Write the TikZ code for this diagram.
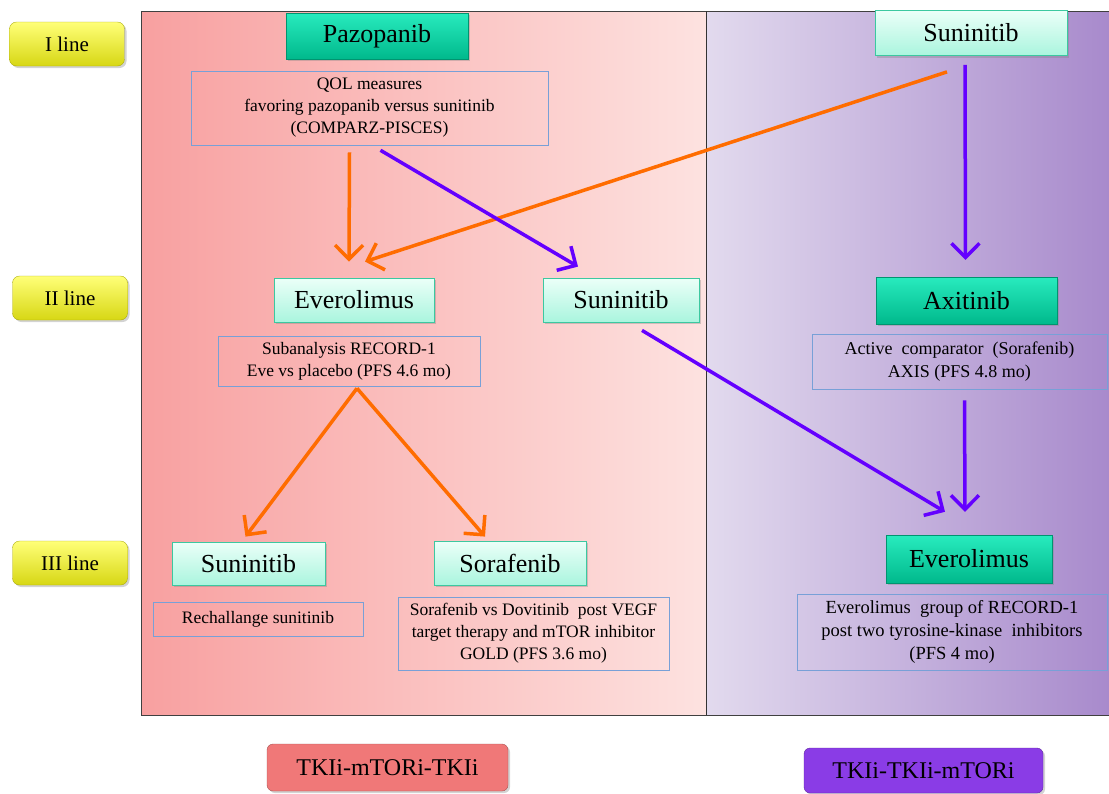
\documentclass[tikz,border=0pt]{standalone}
\usepackage{fontspec}
\setmainfont{Liberation Serif}
\usetikzlibrary{arrows.meta,shadows}
\definecolor{pinkL}{RGB}{248,160,160}
\definecolor{pinkR}{RGB}{253,226,224}
\definecolor{lavL}{RGB}{226,218,238}
\definecolor{lavR}{RGB}{168,138,204}
\definecolor{tealT}{RGB}{40,235,190}
\definecolor{tealB}{RGB}{0,185,140}
\definecolor{mintT}{RGB}{235,255,248}
\definecolor{mintB}{RGB}{170,245,222}
\definecolor{mintD}{RGB}{60,200,160}
\definecolor{yelT}{RGB}{255,255,120}
\definecolor{yelB}{RGB}{215,215,20}
\definecolor{boxline}{RGB}{120,160,215}
\definecolor{oarrc}{RGB}{255,108,0}
\definecolor{parrc}{RGB}{100,0,255}
\definecolor{redbox}{RGB}{240,120,120}
\definecolor{purbox}{RGB}{138,60,230}
\tikzset{
  darkbox/.style={draw=tealB!80!black, top color=tealT, bottom color=tealB, minimum height=46pt, inner sep=0pt, font=\rmfamily\fontsize{26}{28}\selectfont, drop shadow={opacity=0.35,shadow xshift=2pt,shadow yshift=-2pt}},
  mintbox/.style={draw=mintD, line width=0.8pt, top color=mintT, bottom color=mintB, minimum height=44pt, inner sep=0pt, font=\rmfamily\fontsize{26}{28}\selectfont, drop shadow={opacity=0.35,shadow xshift=2pt,shadow yshift=-2pt}},
  textbox/.style={draw=boxline, line width=0.6pt, inner sep=0pt, align=center, font=\rmfamily\fontsize{17.5}{22}\selectfont},
  linebox/.style={draw=yelB!80!black, rounded corners=7pt, top color=yelT, bottom color=yelB, minimum width=115pt, minimum height=44pt, inner sep=0pt, font=\rmfamily\fontsize{21}{24}\selectfont, drop shadow={opacity=0.35,shadow xshift=2pt,shadow yshift=-2pt}},
  oarr/.style={draw=oarrc, line width=3.5pt, -{Straight Barb[length=14pt,width=28pt,line width=3.5pt]}},
  parr/.style={draw=parrc, line width=3.5pt, -{Straight Barb[length=14pt,width=28pt,line width=3.5pt]}},
  tkbox/.style={rounded corners=6pt, inner sep=0pt, font=\rmfamily\fontsize{24}{26}\selectfont, drop shadow={opacity=0.35,shadow xshift=2pt,shadow yshift=-2pt}},
}
\begin{document}
\begin{tikzpicture}[x=1pt,y=-1pt]
\useasboundingbox (0,0) rectangle (1109,793);
% panels
\shade[left color=pinkL, right color=pinkR] (141,11) rectangle (706,715);
\shade[left color=lavL, right color=lavR] (706,11) rectangle (1109,715);
\draw[line width=1pt, black!75] (1109,11) -- (141,11) -- (141,715) -- (1109,715);
\draw[line width=1pt, black!80] (706,11) -- (706,715);
% line labels
\node[linebox] (l1) at (67,44) {I line};
\node[linebox] (l2) at (70,298) {II line};
\node[linebox] (l3) at (70,563) {III line};
% row I
\node[darkbox, minimum width=182pt] (paz) at (377,36) {Pazopanib};
\node[textbox, minimum width=357pt, minimum height=74pt] (qol) at (369.5,108) {QOL measures\\favoring pazopanib versus sunitinib\\(COMPARZ-PISCES)};
\node[mintbox, minimum width=192pt, minimum height=45pt] (sun1) at (971,33) {Suninitib};
% row II
\node[mintbox, minimum width=160pt] (ev2) at (354,300) {Everolimus};
\node[mintbox, minimum width=156pt] (sun2) at (621,300) {Suninitib};
\node[darkbox, minimum width=181pt, minimum height=47pt] (axi) at (966.5,300.5) {Axitinib};
\node[textbox, minimum width=262pt, minimum height=50pt] (sub) at (349,361) {Subanalysis RECORD-1\\Eve vs placebo (PFS 4.6 mo)};
\node[textbox, minimum width=295pt, minimum height=55pt, font=\rmfamily\fontsize{18}{23}\selectfont] (act) at (959.5,361.5) {Active~ comparator~ (Sorafenib)\\AXIS (PFS 4.8 mo)};
% row III
\node[mintbox, minimum width=153pt, minimum height=43pt] (sun3) at (248.5,563.5) {Suninitib};
\node[mintbox, minimum width=152pt] (sor) at (510,563) {Sorafenib};
\node[darkbox, minimum width=166pt, minimum height=48pt] (ev3) at (969,559) {Everolimus};
\node[textbox, minimum width=210pt, minimum height=34pt] (rech) at (258,619) {Rechallange sunitinib};
\node[textbox, minimum width=271pt, minimum height=73pt] (sorvs) at (533.5,633.5) {Sorafenib vs Dovitinib~ post VEGF\\target therapy and mTOR inhibitor\\GOLD (PFS 3.6 mo)};
\node[textbox, minimum width=310pt, minimum height=76pt, font=\rmfamily\fontsize{18.5}{23}\selectfont] (evg) at (952,632) {Everolimus~ group of RECORD-1\\post two tyrosine-kinase~ inhibitors\\(PFS 4 mo)};
% bottom labels
\node[tkbox, draw=redbox!70!black, fill=redbox, minimum width=241pt, minimum height=47pt] (tk1) at (387.5,767.5) {TKIi-mTORi-TKIi};
\node[tkbox, draw=purbox!70!black, fill=purbox, minimum width=239pt, minimum height=45pt] (tk2) at (923.5,770.5) {TKIi-TKIi-mTORi};
% arrows
\draw[oarr] ([xshift=-20pt,yshift=-7pt]qol.south) -- ([xshift=-5pt,yshift=16pt]ev2.north);
\draw[oarr] ([xshift=-24pt,yshift=-16pt]sun1.south) -- ([xshift=11pt,yshift=16pt]ev2.north);
\draw[parr] ([xshift=11pt,yshift=-5pt]qol.south) -- ([xshift=-43pt,yshift=11pt]sun2.north);
\draw[parr] ([xshift=-6pt,yshift=-9pt]sun1.south) -- ([xshift=-1pt,yshift=17pt]axi.north);
\draw[parr] ([xshift=21pt,yshift=-8pt]sun2.south) -- ([xshift=-24pt,yshift=23pt]ev3.north);
\draw[parr] ([xshift=5pt,yshift=-11pt]act.south) -- ([xshift=-4pt,yshift=23pt]ev3.north);
\draw[oarr] ([xshift=8pt,yshift=-2pt]sub.south) -- ([xshift=-3pt,yshift=5pt]sun3.north);
\draw[oarr] ([xshift=8pt,yshift=-2pt]sub.south) -- ([xshift=-25pt,yshift=4pt]sor.north);
\end{tikzpicture}
\end{document}
